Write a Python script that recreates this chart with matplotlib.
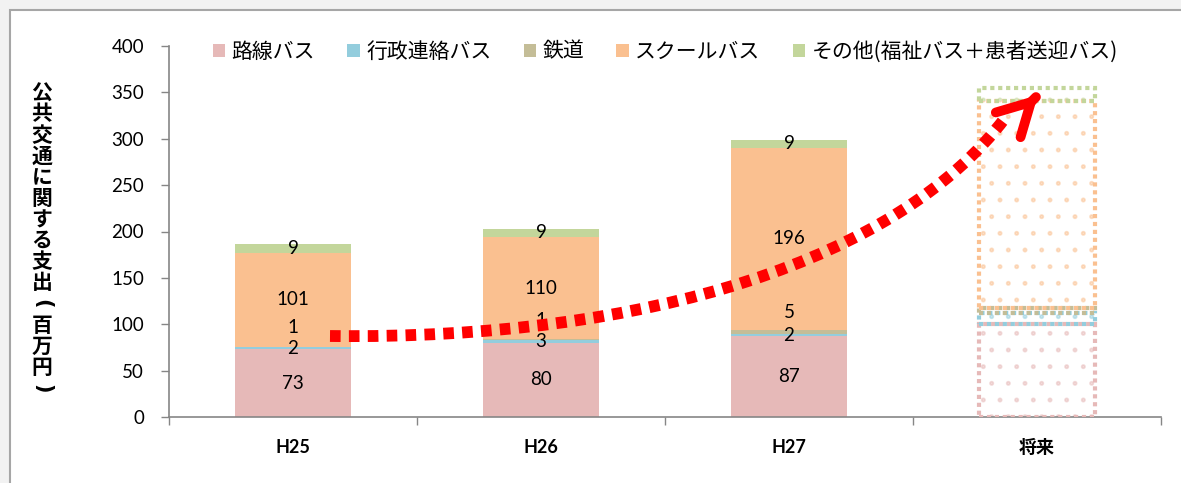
import numpy as np
import matplotlib
matplotlib.use("Agg")
import matplotlib.pyplot as plt
from matplotlib.patches import Rectangle, PathPatch
from matplotlib.path import Path

plt.rcParams['font.family'] = ['Lato', 'Noto Sans CJK JP', 'DejaVu Sans']
plt.rcParams['hatch.linewidth'] = 1.2

# data
years = ['H25', 'H26', 'H27']
future_label = '将来'
series = ['路線バス', '行政連絡バス', '鉄道', 'スクールバス', 'その他(福祉バス＋患者送迎バス)']
rosen = [73, 80, 87]
gyosei = [2, 3, 2]
tetsudo = [1, 1, 5]
school = [101, 110, 196]
other = [9, 9, 9]
future = [100, 12, 5, 224, 14]   # estimated outline of the future bar

colors = ['#E6B9B8', '#93CDDD', '#C4BD97', '#FAC090', '#C3D69B']

fig = plt.figure(figsize=(11.81, 4.83), dpi=100, facecolor='#f2f2f2')
fig.patches.append(Rectangle((10 / 1181, -0.1), 1.1, 1.1 - 10 / 483,
                             transform=fig.transFigure, facecolor='white',
                             edgecolor='#a6a6a6', lw=1.5, zorder=-10))
ax = fig.add_axes([169 / 1181, 1 - 417 / 483, (1161 - 169) / 1181, (417 - 46) / 483])
ax.set_facecolor('none')

x = np.arange(len(years))
width = 0.47
data = [rosen, gyosei, tetsudo, school, other]
bottom = np.zeros(len(years))
handles = []
for i, (vals, c) in enumerate(zip(data, colors)):
    vals = np.array(vals, dtype=float)
    b = ax.bar(x, vals, width, bottom=bottom, color=c, edgecolor='none', label=series[i], zorder=2)
    handles.append(b)
    for xi, v, bt in zip(x, vals, bottom):
        yoff = 14 if i == 2 else 0
        ax.annotate(f'{int(v)}', (xi, bt + v / 2), xytext=(0, yoff), textcoords='offset points',
                    ha='center', va='center', fontsize=13.5, family='Lato', zorder=4)
    bottom += vals

# future bar: dotted outlines with sparse dots
fb = 0
for v, c in zip(future, colors):
    ax.bar(3, v, width, bottom=fb, facecolor='none', edgecolor=c, linewidth=0,
           hatch='.', alpha=0.5, zorder=2)
    ax.bar(3, v, width, bottom=fb, fill=False, edgecolor=c, linewidth=3,
           linestyle=(0, (1, 0.9)), zorder=3)
    fb += v

# red dotted growth arrow (pixel points converted to data units)
def px(xp, yp):
    return ((xp - 293) / 248, (417 - yp) / 0.9275)

verts = [px(330, 336), px(650, 340), px(900, 258), px(1005, 118)]
path = Path(verts, [Path.MOVETO, Path.CURVE4, Path.CURVE4, Path.CURVE4])
ax.add_patch(PathPatch(path, fill=False, edgecolor='red', lw=8.5,
                       linestyle=(0, (0.9, 0.7)), capstyle='butt', zorder=5))
ax.annotate('', xy=px(1040, 93), xytext=px(1034, 99),
            arrowprops=dict(arrowstyle='->,head_length=1.1,head_width=0.6', lw=7,
                            color='red', mutation_scale=21, capstyle='round',
                            joinstyle='round'), zorder=6)

ax.set_xlim(-0.5, 3.5)
ax.set_ylim(0, 400)
ax.set_yticks(range(0, 401, 50))
ax.tick_params(axis='y', labelsize=13.5, length=6, width=1, color='#868686', pad=12)
ax.set_xticks([-0.5, 0.5, 1.5, 2.5, 3.5])
ax.set_xticklabels([])
ax.tick_params(axis='x', which='major', length=6, width=1, color='#868686')
ax.set_xticks(range(4), minor=True)
ax.set_xticklabels(years + [future_label], minor=True, fontweight='bold', fontsize=13)
ax.tick_params(axis='x', which='minor', length=0, pad=16)
for s in ['top', 'right']:
    ax.spines[s].set_visible(False)
for s in ['left', 'bottom']:
    ax.spines[s].set_color('#868686')
    ax.spines[s].set_linewidth(1.2)

# vertical (tategaki) y-axis title, brackets turned sideways
ylab = '公共交通に関する支出(百万円)'
for k, ch in enumerate(ylab):
    ypos = 1 - (93 + k * 21.1) / 483
    if ch in '()':
        fig.text(42 / 1181, ypos, ch, ha='center', va='center', rotation=-90,
                 rotation_mode='anchor', fontsize=15, fontweight='bold', family='DejaVu Sans')
    else:
        fig.text(42 / 1181, ypos, ch, ha='center', va='center',
                 fontsize=15, fontweight='bold', family=['Noto Sans CJK JP'])

ax.legend(handles=handles, loc='upper left', bbox_to_anchor=(194 / 1181, 1 - 22 / 483),
          bbox_transform=fig.transFigure, ncol=5, frameon=False,
          handlelength=0.6, handleheight=0.6, handletextpad=0.3, columnspacing=1.55,
          prop={'family': ['Noto Sans CJK JP'], 'size': 15})

fig.savefig('out.png', dpi=100, facecolor=fig.get_facecolor())
